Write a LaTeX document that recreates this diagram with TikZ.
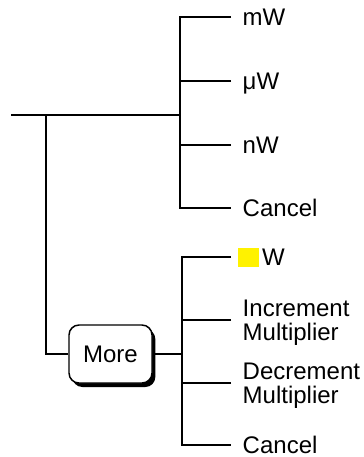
\documentclass[tikz,border=0pt]{standalone}
\usepackage{fontspec}
\setmainfont{Liberation Sans}
\usetikzlibrary{shadows}

\begin{document}
\begin{tikzpicture}[x=0.75pt,y=-0.75pt,line width=1.1pt,
  lbl/.style={anchor=west,inner xsep=8.25pt,inner ysep=0pt,text depth=0pt,
    align=left,font=\fontsize{18}{18}\selectfont},
  softkey/.style={draw,fill=white,rounded corners=7.5pt,inner sep=0pt,
    minimum width=62.25pt,minimum height=43.5pt,
    font=\fontsize{18}{18}\selectfont,
    drop shadow={shadow xshift=2.5pt,shadow yshift=-3pt,opacity=1,fill=black}}]
\useasboundingbox (0,0) rectangle (364,457);
% first menu
\coordinate (root) at (11,115);
\coordinate (fork) at (46,115);
\coordinate (top) at (180,115);
\node[lbl] (mw) at (231,17) {mW};
\node[lbl] (uw) at (231,81) {μW};
\node[lbl] (nw) at (231,145) {nW};
\node[lbl] (cancelA) at (231,208) {Cancel};
\draw (root) -- (top);
\draw (mw.west) -| (top) |- (cancelA.west);
\draw (uw.west) -- (uw.west -| top);
\draw (nw.west) -- (nw.west -| top);
% more menu
\node[softkey] (more) at (110.5,354) {More};
\coordinate (sub) at (182,354);
\node[lbl,inner xsep=4.5pt] (yw) at (231,257)
  {\textcolor{yellow}{\rule[-1pt]{15.75pt}{14.25pt}}\hspace{2.5pt}W};
\node[lbl] (inc) at (231,320) {Increment\\Multiplier};
\node[lbl] (dec) at (231,383) {Decrement\\Multiplier};
\node[lbl] (cancelB) at (231,445) {Cancel};
\draw (fork) |- (more.west);
\draw (more.east) -- (sub);
\draw (yw.west) -| (sub) |- (cancelB.west);
\draw (inc.west) -- (inc.west -| sub);
\draw (dec.west) -- (dec.west -| sub);
\end{tikzpicture}
\end{document}
